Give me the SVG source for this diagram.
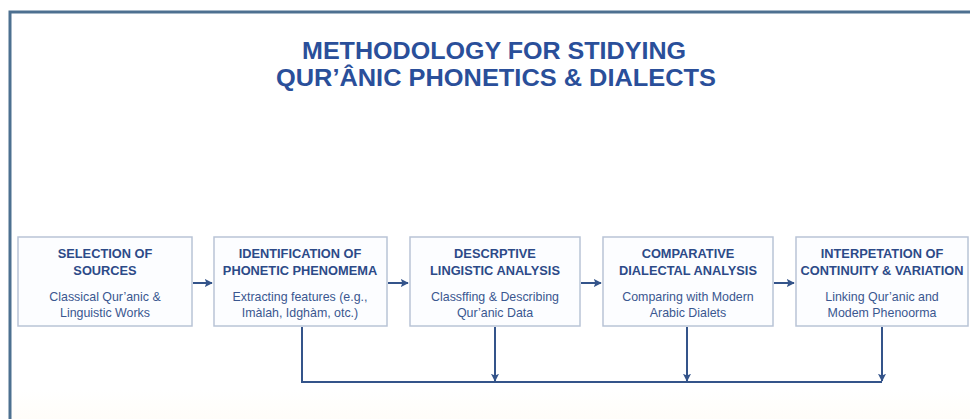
<svg xmlns="http://www.w3.org/2000/svg" width="970" height="419" viewBox="0 0 970 419">
<defs>
<marker id="ah" viewBox="0 0 10 10" refX="9" refY="5" markerWidth="8" markerHeight="8" orient="auto" markerUnits="userSpaceOnUse">
<path d="M0,0 L10,5 L0,10 L2,5 z" fill="#34548a"/>
</marker>
<linearGradient id="bg" x1="0" y1="0" x2="0" y2="1">
<stop offset="0" stop-color="#ffffff"/>
<stop offset="0.9" stop-color="#ffffff"/>
<stop offset="1" stop-color="#fffcf6"/>
</linearGradient>
</defs>
<style>
.box{fill:#fcfdff;stroke:#b9c4d6;stroke-width:1.5}
.hd{font-family:"Liberation Sans",Arial,sans-serif;font-weight:bold;font-size:12.8px;fill:#2c4a88;text-anchor:middle}
.ds{font-family:"Liberation Sans",Arial,sans-serif;font-size:12.4px;fill:#3a5790;text-anchor:middle}
.ttl{font-family:"Liberation Sans",Arial,sans-serif;font-weight:bold;font-size:24px;fill:#2a4f9a;text-anchor:middle}
.ln{fill:none;stroke:#34548a;stroke-width:2}
</style>
<rect x="0" y="0" width="970" height="419" fill="#ffffff"/>
<rect x="10" y="12" width="970" height="420" fill="url(#bg)" stroke="#4d7090" stroke-width="3"/>
<g id="title">
<text class="ttl" x="494" y="59" textLength="384" lengthAdjust="spacingAndGlyphs">METHODOLOGY FOR STIDYING</text>
<text class="ttl" x="496" y="86" textLength="440" lengthAdjust="spacingAndGlyphs">QUR’ÂNIC PHONETICS &amp; DIALECTS</text>
</g>
<g id="connectors">
<path class="ln" d="M193,283 H212" marker-end="url(#ah)"/>
<path class="ln" d="M388,283 H408" marker-end="url(#ah)"/>
<path class="ln" d="M581,283 H601" marker-end="url(#ah)"/>
<path class="ln" d="M774,283 H794" marker-end="url(#ah)"/>
<path class="ln" d="M302,327 V382 H882"/>
<path class="ln" d="M495,327 V381" marker-end="url(#ah)"/>
<path class="ln" d="M687,327 V381" marker-end="url(#ah)"/>
<path class="ln" d="M882,327 V381" marker-end="url(#ah)"/>
</g>
<g id="n1">
<rect class="box" x="18" y="237" width="174" height="89"/>
<text class="hd" x="105" y="258">SELECTION OF</text>
<text class="hd" x="105" y="275">SOURCES</text>
<text class="ds" x="105" y="301">Classical Qur’anic &amp;</text>
<text class="ds" x="105" y="317">Linguistic Works</text>
</g>
<g id="n2">
<rect class="box" x="214" y="237" width="173" height="89"/>
<text class="hd" x="300" y="258">IDENTIFICATION OF</text>
<text class="hd" x="300" y="275">PHONETIC PHENOMEMA</text>
<text class="ds" x="300" y="301">Extracting features (e.g.,</text>
<text class="ds" x="300" y="317">Imàlah, Idghàm, otc.)</text>
</g>
<g id="n3">
<rect class="box" x="410" y="237" width="170" height="89"/>
<text class="hd" x="495" y="258">DESCRPTIVE</text>
<text class="hd" x="495" y="275">LINGISTIC ANALYSIS</text>
<text class="ds" x="495" y="301">Classffing &amp; Describing</text>
<text class="ds" x="495" y="317">Qur’anic Data</text>
</g>
<g id="n4">
<rect class="box" x="603" y="237" width="170" height="89"/>
<text class="hd" x="688" y="258">COMPARATIVE</text>
<text class="hd" x="688" y="275">DIALECTAL ANALYSIS</text>
<text class="ds" x="688" y="301">Comparing with Modern</text>
<text class="ds" x="688" y="317">Arabic Dialets</text>
</g>
<g id="n5">
<rect class="box" x="796" y="237" width="172" height="89"/>
<text class="hd" x="882" y="258">INTERPETATION OF</text>
<text class="hd" x="882" y="275">CONTINUITY &amp; VARIATION</text>
<text class="ds" x="882" y="301">Linking Qur’anic and</text>
<text class="ds" x="882" y="317">Modem Phenoorma</text>
</g>
</svg>
